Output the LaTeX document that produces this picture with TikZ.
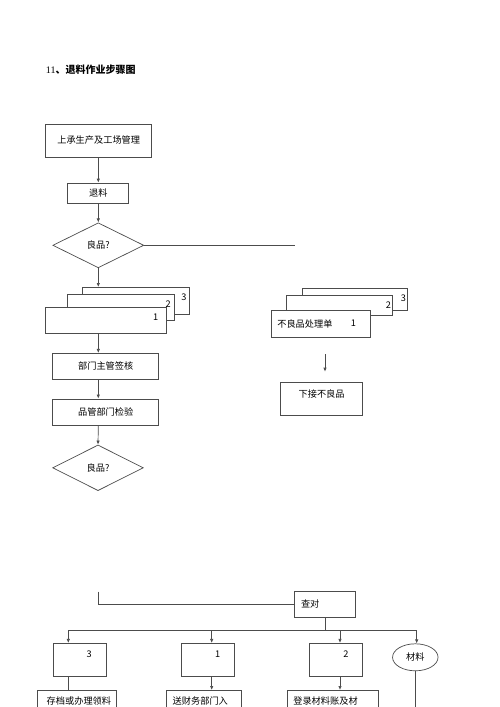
\documentclass[tikz,border=0pt]{standalone}
\usepackage{fontspec}
\setmainfont{Liberation Serif}
\newfontfamily\cjk{Noto Sans CJK SC}
\usetikzlibrary{arrows.meta,shapes.geometric}

\tikzset{
  box/.style = {draw = black!70, line width = 0.7pt, fill = white, inner sep = 0pt},
  dia/.style = {box, diamond, aspect = 2},
  wire/.style = {draw = black!70, line width = 0.7pt},
  arr/.style = {wire, -{Latex[length = 4pt, width = 3.4pt]}},
  txt/.style = {font = \cjk\fontsize{9.2}{11}\selectfont, inner sep = 0pt},
  cutbox/.style = {box, txt, anchor = north, align = left, inner xsep = 6pt,
    inner ysep = 6pt, text height = 8pt, text depth = 30pt},
}

\begin{document}
\begin{tikzpicture}[x = 1pt, y = -1pt]
\useasboundingbox (0,0) rectangle (500,707);
\node (title) [anchor = west, inner sep = 0pt, font = \fontsize{10}{12}\selectfont]
  at (45.7,70) {11\cjk\bfseries 、退料作业步骤图};

% main column
\coordinate (spine) at (98.3,0);
\node (mgmt) [box, txt, minimum width = 106pt, minimum height = 33pt] at (98.7,140.5) {上承生产及工场管理};
\node (ret) [box, txt, minimum width = 61pt, minimum height = 20pt] at (98.3,193) {退料};
\node (ok1) [dia, txt, minimum width = 91pt, minimum height = 45pt] at (98.3,245.3) {良品?};
\coordinate (cut1) at (295,245.3);
\draw [arr] (mgmt.south -| spine) -- (ret.north -| spine);
\draw [arr] (ret.south -| spine) -- (ok1.north);
\draw [wire] (ok1.east) -- (cut1);

% form in three copies
\node (lf3) [box, minimum width = 106.6pt, minimum height = 26.7pt] at (136,300.7) {};
\node (lf3n) [txt] at (184,297.3) {3};
\node (lf2) [box, minimum width = 106.3pt, minimum height = 26.4pt] at (120.9,307.5) {};
\node (lf2n) [txt] at (168.3,304) {2};
\node (lf1) [box, minimum width = 121.7pt, minimum height = 26pt] at (105.9,320.3) {};
\node (lf1n) [txt] at (155.7,317.3) {1};
\draw [arr] (ok1.south) -- (lf3.north -| spine);

\node (sign) [box, txt, minimum width = 106pt, minimum height = 26pt] at (105.7,366.3) {部门主管签核};
\node (qc) [box, txt, minimum width = 106pt, minimum height = 26.7pt] at (105.7,412.3) {品管部门检验};
\node (ok2) [dia, txt, minimum width = 90.6pt, minimum height = 45.7pt] at (98,467.8) {良品?};
\draw [arr] (lf1.south -| spine) -- (sign.north -| spine);
\draw [arr] (sign.south -| spine) -- (qc.north -| spine);
\draw [arr] (qc.south -| spine) -- (ok2.north);

% bad parts
\node (rt3) [box, minimum width = 105.4pt, minimum height = 21.7pt] at (355,299.2) {};
\node (rt3n) [txt] at (403.3,298.3) {3};
\node (rt2) [box, minimum width = 106pt, minimum height = 19.5pt] at (339.7,305.3) {};
\node (rt2n) [txt] at (388.3,305) {2};
\node (rt1) [box, txt, minimum width = 98.6pt, minimum height = 26.3pt, inner xsep = 5.6pt,
  text width = 87.4pt, align = left] at (321,323.8) {不良品处理单};
\node (rt1n) [txt] at (353.3,323.3) {1};
\coordinate (badtop) at (325,354);
\coordinate (badbot) at (325,371.7);
\draw [arr] (badtop) -- (badbot);
\node (nextbad) [box, txt, anchor = north, minimum width = 81.6pt, inner ysep = 7.7pt,
  text height = 8pt, text depth = 9.4pt] at (321.6,381.7) {下接不良品};

% check and hand out
\coordinate (tail) at (98.3,591.7);
\node (check) [box, txt, minimum width = 61.4pt, minimum height = 26.3pt, inner xsep = 6.7pt,
  text width = 48pt, align = left] at (325,604.2) {查对};
\draw [wire] (tail) |- (check.west);
\coordinate (busL) at (68.3,630.7);
\coordinate (busR) at (416.7,630.7);
\draw [wire] (check.south) -- (check.south |- busL);
\draw [wire] (busL) -- (busR);

\node (b3) [box, minimum width = 52.7pt, minimum height = 33.4pt] at (79.7,660) {};
\node (b3n) [txt] at (89.3,654) {3};
\node (b1) [box, minimum width = 52.6pt, minimum height = 33.4pt] at (208,660) {};
\node (b1n) [txt] at (217.7,654) {1};
\node (b2) [box, minimum width = 53.2pt, minimum height = 33.4pt] at (335.9,660) {};
\node (b2n) [txt] at (346,654) {2};
\node (mat) [box, ellipse, txt, minimum width = 45.5pt, minimum height = 27pt] at (415.3,657.3) {材料};
\coordinate (x1) at (211.7,630.7);
\coordinate (x2) at (340,630.7);
\draw [arr] (busL) -- (b3.north -| busL);
\draw [arr] (x1) -- (b1.north -| x1);
\draw [arr] (x2) -- (b2.north -| x2);
\draw [arr] (busR) -- (mat.north -| busR);

\node (file) [cutbox, minimum width = 79.4pt, inner xsep = 9.4pt, text width = 60.6pt] at (77,690) {存档或办理领料};
\node (fin) [cutbox, minimum width = 75pt, text width = 63pt] at (204.2,690) {送财务部门入};
\node (acct) [cutbox, minimum width = 91pt, text width = 79pt] at (332.8,690) {登录材料账及材};
\coordinate (matend) at (415.7,712);
\draw [wire] (b3.south -| busL) -- (file.north -| busL);
\draw [arr] (b1.south -| x1) -- (fin.north -| x1);
\draw [arr] (b2.south -| x2) -- (acct.north -| x2);
\draw [wire] (mat.south) -- (mat.south |- matend);
\end{tikzpicture}
\end{document}
